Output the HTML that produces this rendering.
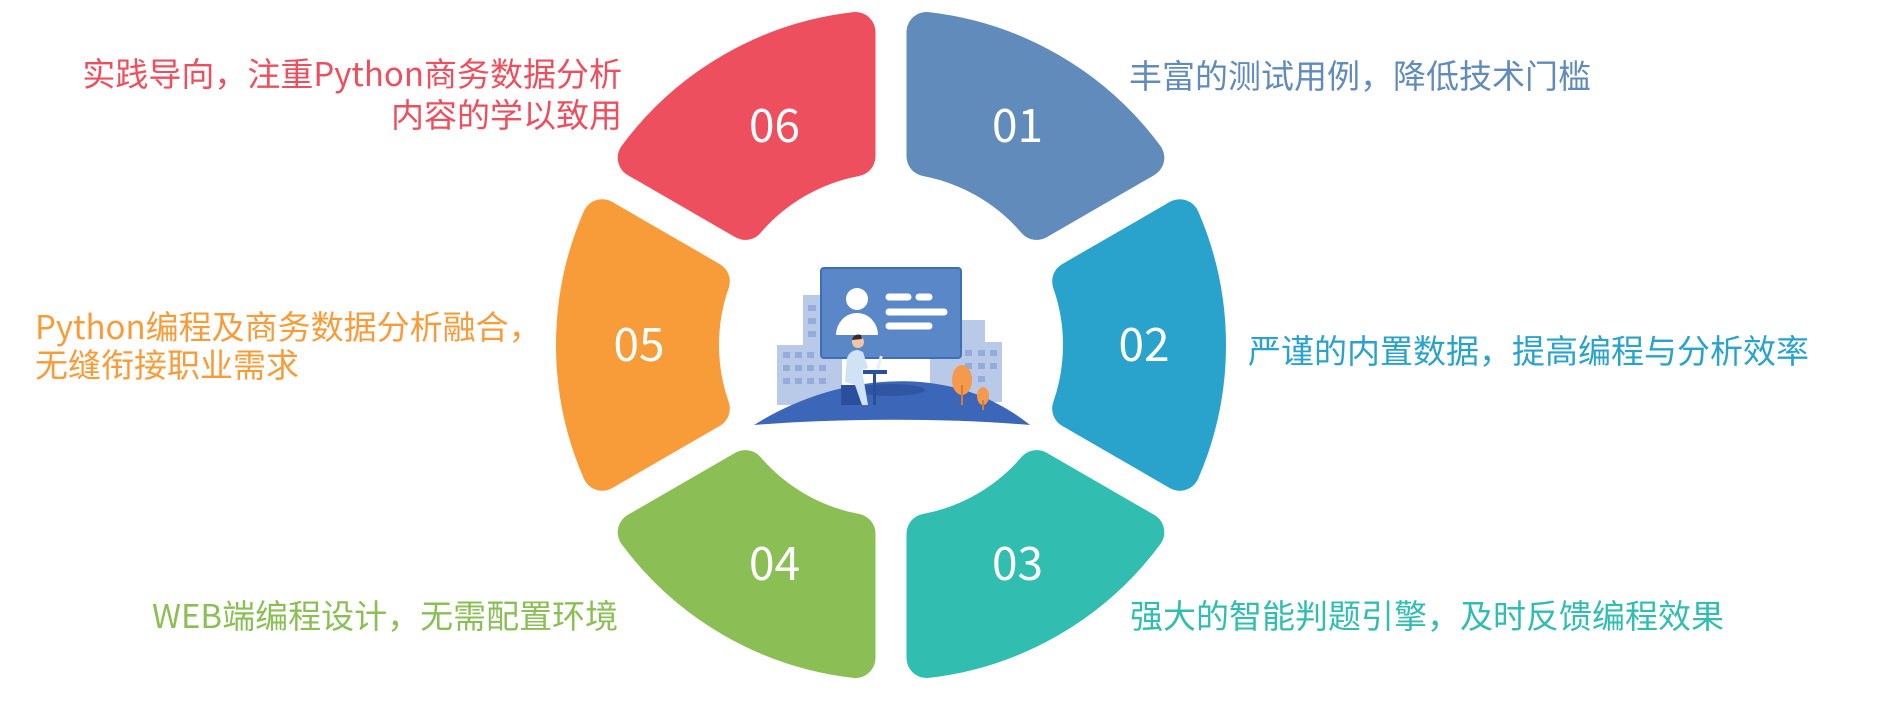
<!DOCTYPE html>
<html><head><meta charset="utf-8">
<style>
html,body{margin:0;padding:0;background:#fff;}
body{width:1887px;height:722px;position:relative;overflow:hidden;font-family:"Liberation Sans","Noto Sans CJK SC",sans-serif;}
.t{position:absolute;font-size:33px;line-height:40px;white-space:nowrap;font-family:"Noto Sans CJK SC","Liberation Sans",sans-serif;}
svg{position:absolute;left:0;top:0;}
</style></head><body>
<svg id="ring" width="1887" height="722" viewBox="0 0 1887 722"></svg>
<svg style="left:750px;top:260px" width="290" height="170" viewBox="0 0 290 170">
  <rect x="53" y="35" width="20" height="110" fill="#b9c9e8"/>
  <rect x="27" y="85" width="65" height="60" fill="#b9c9e8"/>
  <rect x="205" y="60" width="30" height="85" fill="#b9c9e8"/>
  <rect x="180" y="82" width="72" height="60" fill="#b9c9e8"/>
  <g fill="#94acdc">
    <rect x="33" y="92" width="7" height="6"/><rect x="45" y="92" width="7" height="6"/><rect x="57" y="92" width="7" height="6"/>
    <rect x="33" y="105" width="7" height="6"/><rect x="45" y="105" width="7" height="6"/><rect x="57" y="105" width="7" height="6"/><rect x="69" y="105" width="7" height="6"/>
    <rect x="33" y="118" width="7" height="6"/><rect x="45" y="118" width="7" height="6"/><rect x="57" y="118" width="7" height="6"/><rect x="69" y="118" width="7" height="6"/>
    <rect x="58" y="45" width="8" height="6"/><rect x="58" y="58" width="8" height="6"/><rect x="58" y="71" width="8" height="6"/>
    <rect x="215" y="90" width="7" height="6"/><rect x="228" y="90" width="7" height="6"/><rect x="240" y="90" width="7" height="6"/>
    <rect x="215" y="103" width="7" height="6"/><rect x="228" y="103" width="7" height="6"/><rect x="240" y="103" width="7" height="6"/>
    <rect x="215" y="116" width="7" height="6"/><rect x="228" y="116" width="7" height="6"/>
  </g>
  <rect x="71" y="8" width="140" height="90" rx="3" fill="#5a87c8" stroke="#3f6db6" stroke-width="2"/>
  <circle cx="107" cy="39" r="11" fill="#fff"/>
  <path d="M86 75 A21 22 0 0 1 128 75 Z" fill="#fff"/>
  <g stroke="#fff" stroke-width="7" stroke-linecap="round">
    <line x1="139" y1="37" x2="158" y2="37"/><line x1="169" y1="37" x2="179" y2="37"/>
    <line x1="139" y1="52" x2="194" y2="52"/><line x1="139" y1="66" x2="179" y2="66"/>
  </g>
  <path d="M4 165 C60 130 120 118 170 122 C220 126 255 145 280 165 C200 158 90 158 4 165 Z" fill="#3c66b8"/>
  <ellipse cx="140" cy="130" rx="35" ry="6" fill="#2f55a3"/>
  <rect x="91" y="125" width="21" height="20" fill="#2b4f9c"/>
  <rect x="113" y="110" width="24" height="4" fill="#2b4f9c"/>
  <rect x="123" y="112" width="3" height="33" fill="#2b4f9c"/>
  <path d="M95 122 L97 98 Q100 90 108 90 L113 92 L118 108 L112 110 L118 145 L112 145 L105 125 Z" fill="#cfe3f5"/>
  <circle cx="108" cy="82" r="6" fill="#f1c6a6"/>
  <path d="M102 80 Q104 73 111 75 L112 79 Z" fill="#3a2b28"/>
  <rect x="128" y="96" width="3" height="14" fill="#e9eef8" transform="rotate(15 130 103)"/>
  <ellipse cx="212" cy="120" rx="10" ry="15" fill="#f59a4d"/>
  <rect x="211" y="125" width="2" height="20" fill="#e07a30"/>
  <ellipse cx="233" cy="136" rx="6" ry="9" fill="#f59a4d"/>
  <rect x="232" y="140" width="2" height="10" fill="#e07a30"/>
</svg>

<div class="t" style="right:1265px;top:52px;color:#ee4f5e;text-align:right;line-height:41px;">实践导向，注重Python商务数据分析<br>内容的学以致用</div>
<div class="t" style="left:35px;top:306px;color:#f89c39;line-height:38px;">Python编程及商务数据分析融合，<br>无缝衔接职业需求</div>
<div class="t" style="left:152px;top:594px;color:#8bbf55;">WEB端编程设计，无需配置环境</div>
<div class="t" style="left:1129px;top:54px;color:#618bba;">丰富的测试用例，降低技术门槛</div>
<div class="t" style="left:1248px;top:329px;color:#29a3cc;">严谨的内置数据，提高编程与分析效率</div>
<div class="t" style="left:1130px;top:594px;color:#31bdb0;">强大的智能判题引擎，及时反馈编程效果</div>

<script>
(function(){
  var cx=891, cy=345, R=335, r=172, g=15.5, rc=20;
  var segs=[[30,90,'#618bba','01',0],[-30,30,'#29a3cc','02',0],[-90,-30,'#31bdb0','03',0],[-150,-90,'#8bbf55','04',10],[150,210,'#f89c39','05',1],[90,150,'#ee4f5e','06',10]];
  var d2r=Math.PI/180, out='';
  function pt(rho,a){return [(cx+rho*Math.cos(a)).toFixed(2),(cy-rho*Math.sin(a)).toFixed(2)];}
  segs.forEach(function(s){
    var a1=s[0]*d2r,a2=s[1]*d2r,d=g+rc,ro=R-rc,ri=r+rc;
    var dO=Math.asin(d/ro),dI=Math.asin(d/ri);
    var p1=pt(ro,a1+dO),p2=pt(ro,a2-dO),p3=pt(ri,a2-dI),p4=pt(ri,a1+dI);
    out+='<path d="M'+p1+' A'+ro+' '+ro+' 0 0 0 '+p2+' L'+p3+' A'+ri+' '+ri+' 0 0 1 '+p4+' Z" fill="'+s[2]+'" stroke="'+s[2]+'" stroke-width="'+(2*rc)+'" stroke-linejoin="round"/>';
    var m=(s[0]+s[1])/2*d2r, lr=253;
    var lx=cx+lr*Math.cos(m)+s[4], ly=cy-lr*Math.sin(m);
    out+='<text x="'+lx.toFixed(1)+'" y="'+(ly+16).toFixed(1)+'" text-anchor="middle" fill="#fff" font-size="46" font-family="Noto Sans CJK SC, Liberation Sans, sans-serif">'+s[3]+'</text>';
  });
  document.getElementById('ring').innerHTML=out;
})();
</script>
</body></html>
